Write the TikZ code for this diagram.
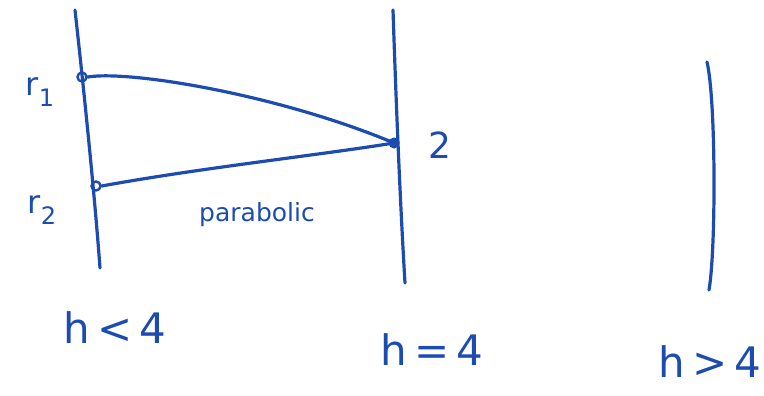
\documentclass[tikz,border=0pt]{standalone}
\usepackage{fontspec}
\setmainfont{DejaVu Sans}
\definecolor{ink}{HTML}{1D4CB0}
\begin{document}
\begin{tikzpicture}[x=1pt,y=-1pt,
  pen/.style={draw=ink,line width=3.2pt,line cap=round,line join=round},
  lbl/.style={text=ink,font=\fontsize{42}{46}\selectfont,inner sep=0pt},
  sm/.style={text=ink,font=\fontsize{32}{36}\selectfont,inner sep=0pt},
  pt/.style={circle,draw=ink,line width=2.4pt,minimum size=9pt,inner sep=0pt}]
\useasboundingbox (0,0) rectangle (764,396);
% vertical lines
\coordinate (L1t) at (75,10); \coordinate (L1b) at (100,268);
\coordinate (L2t) at (393,10); \coordinate (L2b) at (405,283);
\coordinate (L3t) at (707,62); \coordinate (L3b) at (709,290);
\draw[pen] (L1t) .. controls (85,100) and (95,200) .. (L1b);
\draw[pen] (L2t) .. controls (396,100) and (400,200) .. (L2b);
\draw[pen] (L3t) .. controls (716,100) and (716,250) .. (L3b);
% points
\node[pt] (r1) at (82,77) {};
\node[pt] (r2) at (96,186) {};
\node[circle,fill=ink,minimum size=11pt,inner sep=0pt] (p2) at (394,143) {};
% curves
\draw[pen] (r1.east) .. controls (130,70) and (280,95) .. (p2.center);
\draw[pen] (r2.east) .. controls (200,168) and (320,155) .. (p2.center);
% labels
\node[sm] (tr1) at (40,92) {r\raisebox{-0.35em}{\fontsize{24}{26}\selectfont 1}};
\node[sm] (tr2) at (42,210) {r\raisebox{-0.35em}{\fontsize{24}{26}\selectfont 2}};
\node[text=ink,font=\fontsize{36}{40}\selectfont,inner sep=0pt] (t2) at (440,145) {2};
\node[text=ink,font=\fontsize{25}{28}\selectfont,inner sep=0pt] (tp) at (257,215) {parabolic};
\node[lbl] (h1) at (115,328) {h\,<\,4};
\node[lbl] (h2) at (432,350) {h\,=\,4};
\node[lbl] (h3) at (710,362) {h\,>\,4};
\end{tikzpicture}
\end{document}
